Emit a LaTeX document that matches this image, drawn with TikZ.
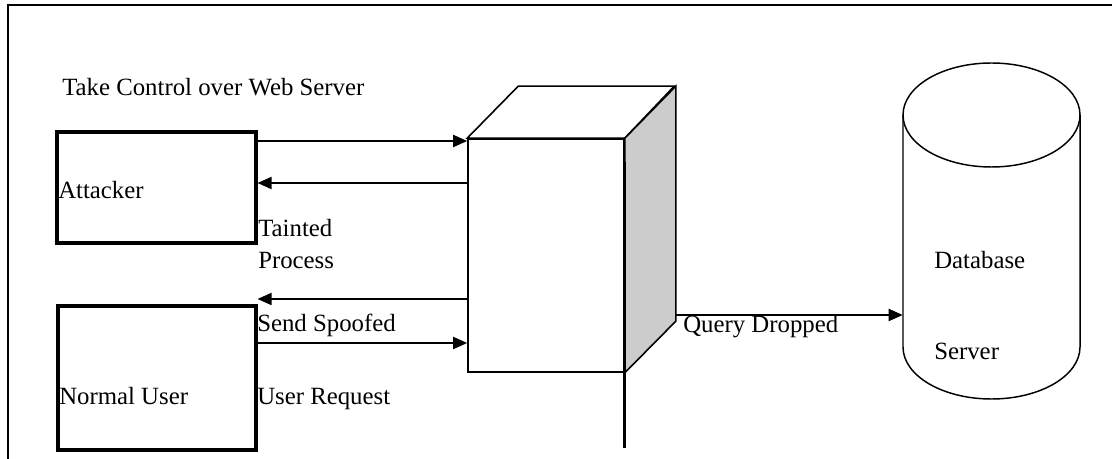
\documentclass[tikz,border=0pt]{standalone}
\usepackage{fontspec}
\setmainfont{Liberation Serif}
\usetikzlibrary{arrows.meta}
\newlength\px
\setlength\px{0.75pt}
\definecolor{sidegray}{HTML}{CCCCCC}

\begin{document}
\begin{tikzpicture}[x=0.75pt,y=-0.75pt,
  every node/.style={inner sep=0pt},
  txt/.style={anchor=base west,font=\fontsize{18.6}{22}\selectfont},
  actor/.style={draw,line width=2.3pt},
  cubeline/.style={line width=1.2pt,line join=miter},
  conn/.style={line width=1.4pt,-{Triangle[length=10.5pt,width=9pt]}},
  post/.style={line width=2.3pt},
  cyl/.style={line width=1.1pt}]
\useasboundingbox (0,0) rectangle (1112,459);

% page frame
\draw[line width=1.3pt] (8,459) -- (8,5) -- (1112,5);

% row heights of the connectors
\coordinate (r1) at (0,141);
\coordinate (r2) at (0,183);
\coordinate (r3) at (0,299);
\coordinate (r4) at (0,343);
\coordinate (r5) at (0,315);
\coordinate (v1) at (0,162);
\coordinate (v2) at (0,448);

% clients
\node[actor,minimum width=199\px,minimum height=111\px] (att) at (156.5,187.5) {};
\node[actor,minimum width=198\px,minimum height=144\px] (usr) at (157,378) {};

% web server cube
\node[draw,cubeline,fill=white,minimum width=156\px,minimum height=233\px] (web) at (546,255.5) {};
\draw[cubeline,fill=white] (web.north west) -- ++(51,-52) -- ++(156,0) -- (web.north east) -- cycle;
\draw[cubeline,fill=sidegray] (web.north east) -- ++(51,-52) -- ++(0,235) -- (web.south east) -- cycle;
\coordinate (backse) at ([shift={(51,-50)}]web.south east);
\draw[post] (web.east |- v1) -- (web.east |- v2);

% database cylinder
\node[minimum width=177\px,minimum height=336\px] (db) at (991.5,231) {};
\draw[cyl] (991.5,115) ellipse [x radius=88.5\px,y radius=52\px];
\draw[cyl] (903,115) -- (903,347)
  .. controls (903,375.72) and (942.62,399) .. (991.5,399)
  .. controls (1040.38,399) and (1080,375.72) .. (1080,347) -- (1080,115);

% connectors
\draw[conn] (att.east |- r1) -- (web.west |- r1);
\draw[conn] (web.west |- r2) -- (att.east |- r2);
\draw[conn] (web.west |- r3) -- (usr.east |- r3);
\draw[conn] (usr.east |- r4) -- (web.west |- r4);
\draw[conn] (backse |- r5) -- (db.west |- r5);

% labels
\node[txt] (ttake) at (62,96) {Take Control over Web Server};
\node[txt] (tatt) at (58,199) {Attacker};
\node[txt] (ttaint) at (258,237) {Tainted};
\node[txt] (tproc) at (258,269) {Process};
\node[txt] (tspoof) at (257,331) {Send Spoofed};
\node[txt] (tusr) at (59,404) {Normal User};
\node[txt] (treq) at (257,404) {User Request};
\node[txt] (tquery) at (683,332) {Query Dropped};
\node[txt] (tdb) at (934,269) {Database};
\node[txt] (tsrv) at (934,359) {Server};
\end{tikzpicture}
\end{document}
